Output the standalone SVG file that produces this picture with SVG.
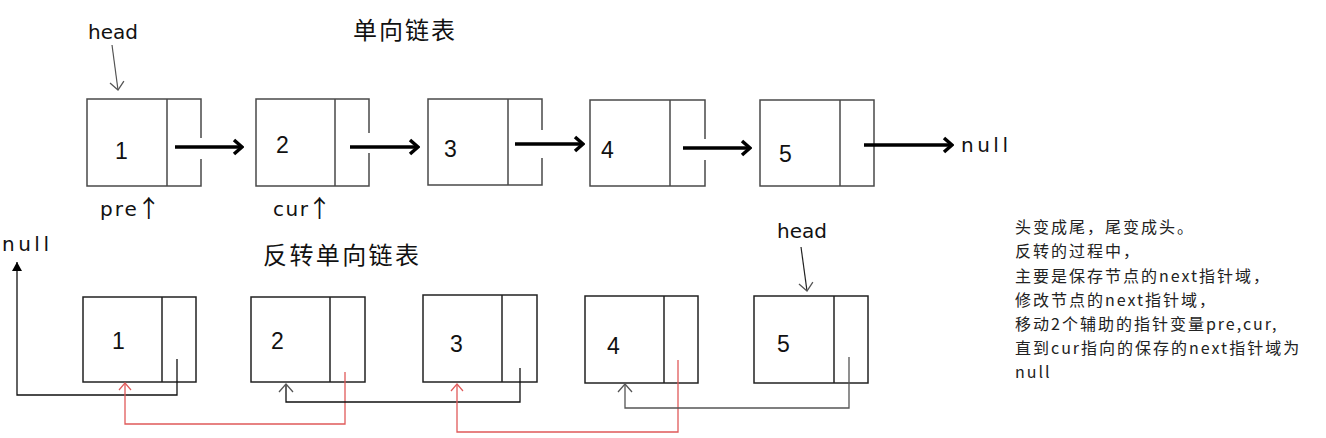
<svg xmlns="http://www.w3.org/2000/svg" width="1326" height="438" viewBox="0 0 1326 438">
<style>
.box{fill:none;stroke:#4a4a4a;stroke-width:1.5}
.box2{fill:none;stroke:#222;stroke-width:1.5}
.thick{fill:none;stroke:#000;stroke-width:3.5}
.lat{font-family:"DejaVu Sans",sans-serif;font-size:20px;fill:#111}
.num{font-family:"Liberation Sans",Arial,sans-serif;font-size:23px;fill:#111}
.cjk{font-family:"Noto Sans CJK SC",sans-serif;font-size:24px;fill:#111}
.note{font-family:"Noto Sans CJK SC",sans-serif;font-size:16px;fill:#222;letter-spacing:2px}
.up{font-family:"Noto Sans CJK SC",sans-serif;font-size:24px;fill:#111}
</style>
<defs>
<marker id="mThick" viewBox="-12 -10 14 20" refX="0" refY="0" markerWidth="14" markerHeight="20" orient="auto" markerUnits="userSpaceOnUse">
<path d="M-8,-7 L0,0 L-8,7" fill="none" stroke="#000" stroke-width="3.5"/>
</marker>
<marker id="mRed" viewBox="-10 -10 12 20" refX="0" refY="0" markerWidth="12" markerHeight="20" orient="auto" markerUnits="userSpaceOnUse">
<path d="M-7,-6 L0,0 L-7,6" fill="none" stroke="#e05a5a" stroke-width="1.2"/>
</marker>
<marker id="mGray" viewBox="-12 -12 14 24" refX="0" refY="0" markerWidth="14" markerHeight="24" orient="auto" markerUnits="userSpaceOnUse">
<path d="M-8,-7 L0,0 L-8,7" fill="none" stroke="#555" stroke-width="1.3"/>
</marker>
<marker id="mFill" viewBox="-12 -7 14 14" refX="0" refY="0" markerWidth="14" markerHeight="14" orient="auto" markerUnits="userSpaceOnUse">
<path d="M-9,-5 L0,0 L-9,5 Z" fill="#000"/>
</marker>
</defs>
<rect width="1326" height="438" fill="#fff"/>

<text class="cjk" x="353" y="39" letter-spacing="2">单向链表</text>
<text class="cjk" x="263" y="264" letter-spacing="2.4">反转单向链表</text>

<g id="top-head">
<text class="lat" x="88" y="39">head</text>
</g>
<g id="top-node-1">
<path class="box" d="M201,138 V99 H87 V186 H201 V159 M167,99 V186"/>
<text class="num" x="115" y="159">1</text>
</g>
<g id="top-node-2">
<path class="box" d="M369,133 V99 H256 V186 H369 V153 M335,99 V186"/>
<text class="num" x="276" y="153">2</text>
</g>
<g id="top-node-3">
<path class="box" d="M542,130 V99 H428 V185 H542 V158 M508,99 V185"/>
<text class="num" x="444" y="157">3</text>
</g>
<g id="top-node-4">
<path class="box" d="M705,139 V100 H590 V186 H705 V160 M670,100 V186"/>
<text class="num" x="601" y="158">4</text>
</g>
<g id="top-node-5">
<path class="box" d="M760,100 H874 V186 H760 Z M840,100 V186"/>
<text class="num" x="779" y="162">5</text>
</g>
<g id="top-null">
<text class="lat" x="961" y="152" letter-spacing="3.5">null</text>
</g>
<g id="pre-label">
<text class="lat" x="100" y="216" letter-spacing="2">pre<tspan class="up" dx="-2" y="217">↑</tspan></text>
</g>
<g id="cur-label">
<text class="lat" x="273" y="216" letter-spacing="1.5">cur<tspan class="up" dx="-2" y="217">↑</tspan></text>
</g>

<g id="bottom-null">
<text class="lat" x="2" y="251" letter-spacing="3.5">null</text>
</g>
<g id="bottom-head">
<text class="lat" x="777" y="238">head</text>
</g>
<g id="bot-node-1">
<rect class="box2" x="83" y="297" width="113" height="85"/>
<path class="box2" d="M162,297 V382"/>
<text class="num" x="112" y="349">1</text>
</g>
<g id="bot-node-2">
<rect class="box2" x="251" y="297" width="114" height="85"/>
<path class="box2" d="M330,297 V382"/>
<text class="num" x="271" y="349">2</text>
</g>
<g id="bot-node-3">
<rect class="box2" x="423" y="295" width="114" height="87"/>
<path class="box2" d="M502,295 V382"/>
<text class="num" x="450" y="352">3</text>
</g>
<g id="bot-node-4">
<rect class="box2" x="585" y="296" width="113" height="87"/>
<path class="box2" d="M664,296 V383"/>
<text class="num" x="607" y="354">4</text>
</g>
<g id="bot-node-5">
<rect class="box2" x="754" y="296" width="114" height="87"/>
<path class="box2" d="M834,296 V383"/>
<text class="num" x="777" y="352">5</text>
</g>

<g id="note">
<text class="note" x="1015" y="233">头变成尾，尾变成头。</text>
<text class="note" x="1015" y="257">反转的过程中，</text>
<text class="note" x="1015" y="282">主要是保存节点的next指针域，</text>
<text class="note" x="1015" y="306">修改节点的next指针域，</text>
<text class="note" x="1015" y="330">移动2个辅助的指针变量pre,cur,</text>
<text class="note" x="1015" y="354">直到cur指向的保存的next指针域为</text>
<text class="note" x="1015" y="378">null</text>
</g>

<g id="connectors">
<path d="M112,45 L118,90" fill="none" stroke="#555" stroke-width="1.2" marker-end="url(#mGray)"/>
<path d="M801,247 L807,291" fill="none" stroke="#222" stroke-width="1.2" marker-end="url(#mGray)"/>
<path class="thick" d="M175,147 H242" marker-end="url(#mThick)"/>
<path class="thick" d="M350,147 H418" marker-end="url(#mThick)"/>
<path class="thick" d="M515,144 H583" marker-end="url(#mThick)"/>
<path class="thick" d="M683,148 H750" marker-end="url(#mThick)"/>
<path class="thick" d="M864,145 H952" marker-end="url(#mThick)"/>
<path d="M177,359 V395 H17 V262" fill="none" stroke="#111" stroke-width="1.3" marker-end="url(#mFill)"/>
<path d="M345,372 V424 H125 V383" fill="none" stroke="#e05a5a" stroke-width="1.3" marker-end="url(#mRed)"/>
<path d="M520,368 V402 H286 V384" fill="none" stroke="#111" stroke-width="1.3" marker-end="url(#mGray)"/>
<path d="M678,360 V432 H457 V384" fill="none" stroke="#e05a5a" stroke-width="1.3" marker-end="url(#mRed)"/>
<path d="M849,357 V408 H625 V384" fill="none" stroke="#555" stroke-width="1.3" marker-end="url(#mGray)"/>
</g>
</svg>
